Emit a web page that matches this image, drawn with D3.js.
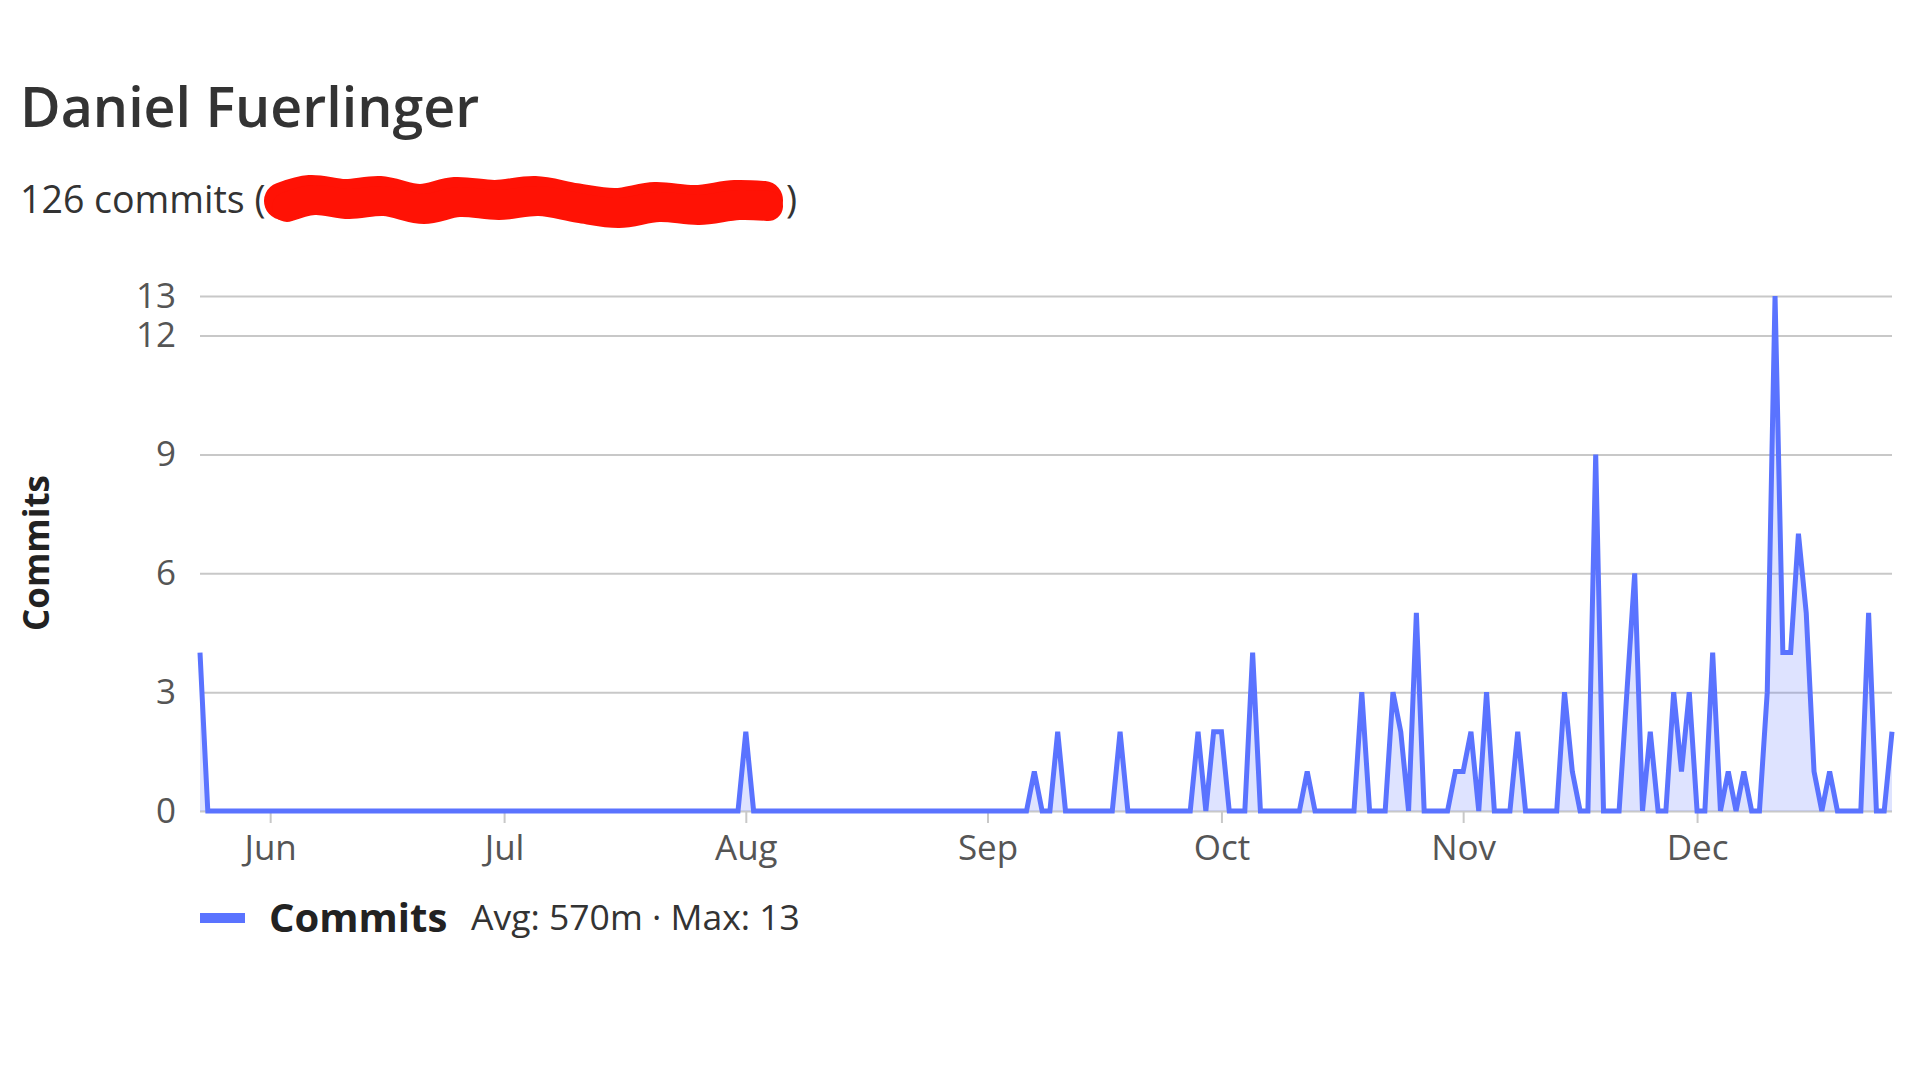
<!DOCTYPE html>
<html>
<head>
<meta charset="utf-8">
<script src="https://cdn.jsdelivr.net/npm/d3@7"></script>
<style>
  html, body { margin: 0; padding: 0; background: #ffffff; }
  svg { display: block; }
  text { font-family: "Open Sans", "Noto Sans", sans-serif; }
</style>
</head>
<body>
<svg id="chart" width="1920" height="1080"></svg>
<script>
// Author and summary line
const authorName = "Daniel Fuerlinger";
const commitTotalLabel = "126 commits";

// Daily commit counts, first day is 23 May
const startDay = "2023-05-23";
const commitsMay = [4, 0, 0, 0, 0, 0, 0, 0, 0];
const commitsJun = [0, 0, 0, 0, 0, 0, 0, 0, 0, 0, 0, 0, 0, 0, 0, 0, 0, 0, 0, 0, 0, 0, 0, 0, 0, 0, 0, 0, 0, 0];
const commitsJul = [0, 0, 0, 0, 0, 0, 0, 0, 0, 0, 0, 0, 0, 0, 0, 0, 0, 0, 0, 0, 0, 0, 0, 0, 0, 0, 0, 0, 0, 0, 0];
const commitsAug = [2, 0, 0, 0, 0, 0, 0, 0, 0, 0, 0, 0, 0, 0, 0, 0, 0, 0, 0, 0, 0, 0, 0, 0, 0, 0, 0, 0, 0, 0, 0];
const commitsSep = [0, 0, 0, 0, 0, 0, 1, 0, 0, 2, 0, 0, 0, 0, 0, 0, 0, 2, 0, 0, 0, 0, 0, 0, 0, 0, 0, 2, 0, 2];
const commitsOct = [2, 0, 0, 0, 4, 0, 0, 0, 0, 0, 0, 1, 0, 0, 0, 0, 0, 0, 3, 0, 0, 0, 3, 2, 0, 5, 0, 0, 0, 0, 1];
const commitsNov = [1, 2, 0, 3, 0, 0, 0, 2, 0, 0, 0, 0, 0, 3, 1, 0, 0, 9, 0, 0, 0, 3, 6, 0, 2, 0, 0, 3, 1, 3];
const commitsDec = [0, 0, 4, 0, 1, 0, 1, 0, 0, 3, 13, 4, 4, 7, 5, 1, 0, 1, 0, 0, 0, 0, 5, 0, 0, 2];

// Axis ticks and legend
const yTickValues = [0, 3, 6, 9, 12, 13];
const seriesName = "Commits";
const legendStats = "Avg: 570m \u00b7 Max: 13";

const counts = [].concat(commitsMay, commitsJun, commitsJul, commitsAug,
                         commitsSep, commitsOct, commitsNov, commitsDec);
const day0 = d3.timeParse("%Y-%m-%d")(startDay);
const data = counts.map((v, i) => ({ date: d3.timeDay.offset(day0, i), value: v }));

const svg = d3.select("#chart");
svg.append("rect").attr("width", 1920).attr("height", 1080).attr("fill", "#ffffff");

const plot = { left: 200, right: 1892, top: 296, bottom: 811 };
const lineColor = "#5a73ff";
const gridColor = "#c8c8c8";
const textColor = "#555555";

// Header
svg.append("text")
  .attr("x", 20).attr("y", 127)
  .attr("font-size", 55.5).attr("font-weight", 600).attr("fill", "#333333")
  .text(authorName);

svg.append("text")
  .attr("x", 20).attr("y", 213)
  .attr("font-size", 37.5).attr("fill", "#333333")
  .text(commitTotalLabel + " (");

// Redaction scribble over the e-mail part of the summary line
const scribble = [[283, 201], [310, 194], [345, 198], [380, 195], [420, 203], [455, 196],
                  [495, 199], [535, 195], [575, 202], [615, 207], [655, 201], [695, 204],
                  [735, 199], [764, 200]];
const scribbleLine = d3.line().curve(d3.curveCatmullRom);
svg.append("path").attr("d", scribbleLine(scribble))
  .attr("fill", "none").attr("stroke", "#ff1205").attr("stroke-width", 38)
  .attr("stroke-linecap", "round").attr("stroke-linejoin", "round");
svg.append("path").attr("d", scribbleLine(scribble.map(p => [p[0] + 4, p[1] + 6])))
  .attr("fill", "none").attr("stroke", "#ff1205").attr("stroke-width", 30)
  .attr("stroke-linecap", "round").attr("stroke-linejoin", "round");
svg.append("text")
  .attr("x", 786).attr("y", 213)
  .attr("font-size", 37.5).attr("fill", "#333333")
  .text(")");

// Scales
const x = d3.scaleTime()
  .domain([data[0].date, data[data.length - 1].date])
  .range([plot.left, plot.right]);
const y = d3.scaleLinear()
  .domain([0, 13])
  .range([plot.bottom, plot.top]);

// Horizontal grid
const yAxis = d3.axisLeft(y)
  .tickValues(yTickValues)
  .tickSize(-(plot.right - plot.left))
  .tickPadding(24)
  .tickFormat(d3.format("d"));
const gy = svg.append("g")
  .attr("transform", `translate(${plot.left},0)`)
  .call(yAxis);
gy.select(".domain").remove();
gy.selectAll(".tick line").attr("stroke", gridColor).attr("stroke-width", 2);
gy.selectAll(".tick text")
  .attr("font-size", 35).attr("fill", textColor)
  .attr("font-family", "Open Sans, Noto Sans, sans-serif");

// Time axis
const xAxis = d3.axisBottom(x)
  .ticks(d3.timeMonth.every(1))
  .tickSize(12)
  .tickPadding(12)
  .tickFormat(d3.timeFormat("%b"));
const gx = svg.append("g")
  .attr("transform", `translate(0,${plot.bottom})`)
  .call(xAxis);
gx.select(".domain").remove();
gx.selectAll(".tick line").attr("stroke", gridColor).attr("stroke-width", 2);
gx.selectAll(".tick text")
  .attr("font-size", 35).attr("fill", textColor)
  .attr("font-family", "Open Sans, Noto Sans, sans-serif");

// Y axis title
svg.append("text")
  .attr("transform", "translate(49,553) rotate(-90)")
  .attr("text-anchor", "middle")
  .attr("font-size", 35).attr("font-weight", 700).attr("fill", "#222222")
  .text(seriesName);

// Area and line
const area = d3.area()
  .x(d => x(d.date))
  .y0(y(0))
  .y1(d => y(d.value));
const line = d3.line()
  .x(d => x(d.date))
  .y(d => y(d.value));

svg.append("path").datum(data)
  .attr("d", area)
  .attr("fill", lineColor).attr("fill-opacity", 0.2);
svg.append("path").datum(data)
  .attr("d", line)
  .attr("fill", "none")
  .attr("stroke", lineColor).attr("stroke-width", 5);

// Legend
const legend = svg.append("g").attr("transform", "translate(200,918)");
legend.append("rect")
  .attr("x", 0).attr("y", -5).attr("width", 45).attr("height", 10)
  .attr("fill", lineColor);
legend.append("text")
  .attr("x", 69).attr("y", 14)
  .attr("font-size", 40).attr("font-weight", 700).attr("fill", "#222222")
  .text(seriesName);
legend.append("text")
  .attr("x", 271).attr("y", 12)
  .attr("font-size", 35.5).attr("fill", "#333333")
  .text(legendStats);
</script>
</body>
</html>
